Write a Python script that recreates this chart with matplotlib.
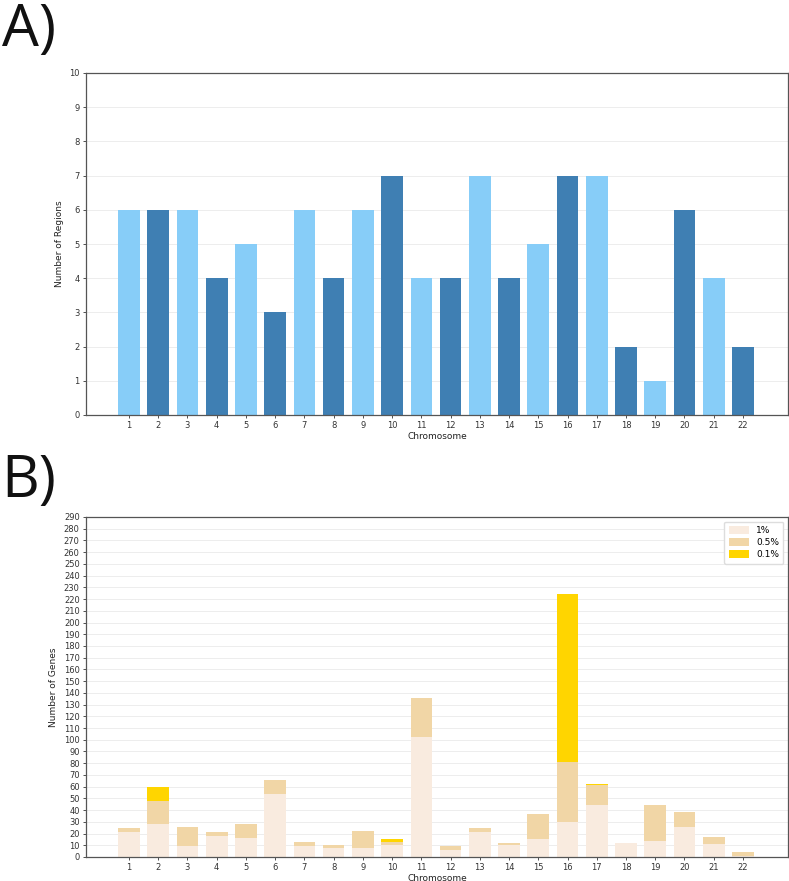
import matplotlib
matplotlib.use("Agg")
import matplotlib.pyplot as plt
import numpy as np

chromosomes = [str(i) for i in range(1, 23)]
regions = [6, 6, 6, 4, 5, 3, 6, 4, 6, 7, 4, 4, 7, 4, 5, 7, 7, 2, 1, 6, 4, 2]

genes_1pct = [21, 28, 9, 18, 16, 54, 9, 8, 8, 10, 102, 6, 21, 10, 15, 30, 44, 12, 14, 26, 11, 1]
genes_05pct = [4, 20, 17, 3, 12, 12, 4, 2, 14, 3, 34, 3, 4, 2, 22, 51, 17, 0, 30, 12, 6, 3]
genes_01pct = [0, 12, 0, 0, 0, 0, 0, 0, 0, 2, 0, 0, 0, 0, 0, 143, 1, 0, 0, 0, 0, 0]
legend_labels = ["1%", "0.5%", "0.1%"]

plt.rcParams['font.family'] = ['DejaVu Sans']
fig = plt.figure(figsize=(7.89, 8.81), dpi=100)

x = np.arange(1, len(chromosomes) + 1)
light_blue = "#87cdf8"
dark_blue = "#3f7fb3"
colors_a = [light_blue if i % 2 == 0 else dark_blue for i in range(len(x))]

tick_fs = 6
label_fs = 6.5

def style_axes(ax):
    for s in ax.spines.values():
        s.set_color("#555555")
        s.set_linewidth(0.9)
    ax.tick_params(labelsize=tick_fs, length=2.5, width=0.6, colors="#333333", pad=2)
    ax.yaxis.grid(True, color="#ededed", linewidth=0.7)
    ax.set_axisbelow(True)
    ax.set_xlim(-0.47, 23.54)
    ax.set_xticks(x)
    ax.set_xticklabels(chromosomes)

axA = fig.add_axes([86/789, 1 - 415/881, (788-86)/789, (415-73)/881])
axA.bar(x, regions, width=0.74, color=colors_a)
axA.set_ylim(0, 10)
axA.set_yticks(range(0, 11))
style_axes(axA)
axA.set_ylabel("Number of Regions", fontsize=label_fs, labelpad=4, color="#222222")
axA.set_xlabel("Chromosome", fontsize=label_fs, labelpad=1, color="#222222")

axB = fig.add_axes([86/789, 1 - 857/881, (788-86)/789, (857-517)/881])
b1 = np.array(genes_1pct)
b2 = np.array(genes_05pct)
b3 = np.array(genes_01pct)
axB.bar(x, b1, width=0.74, color="#f9ebdf", label=legend_labels[0])
axB.bar(x, b2, width=0.74, bottom=b1, color="#f1d6a6", label=legend_labels[1])
axB.bar(x, b3, width=0.74, bottom=b1 + b2, color="#ffd500", label=legend_labels[2])
axB.set_ylim(0, 290)
axB.set_yticks(range(0, 291, 10))
style_axes(axB)
axB.set_ylabel("Number of Genes", fontsize=label_fs, labelpad=4, color="#222222")
axB.set_xlabel("Chromosome", fontsize=label_fs, labelpad=1, color="#222222")
axB.legend(loc="upper right", fontsize=6.5, frameon=True, framealpha=1,
           edgecolor="#dddddd", handlelength=2.2, handleheight=0.9,
           borderpad=0.5, labelspacing=0.35)

fig.text(0.002, 1 - 46/881, "A)", fontsize=42, ha="left", va="baseline",
         color="#111111", family=["Open Sans", "DejaVu Sans"])
fig.text(0.002, 1 - 497/881, "B)", fontsize=42, ha="left", va="baseline",
         color="#111111", family=["Open Sans", "DejaVu Sans"])

fig.savefig("out.png", dpi=100)
